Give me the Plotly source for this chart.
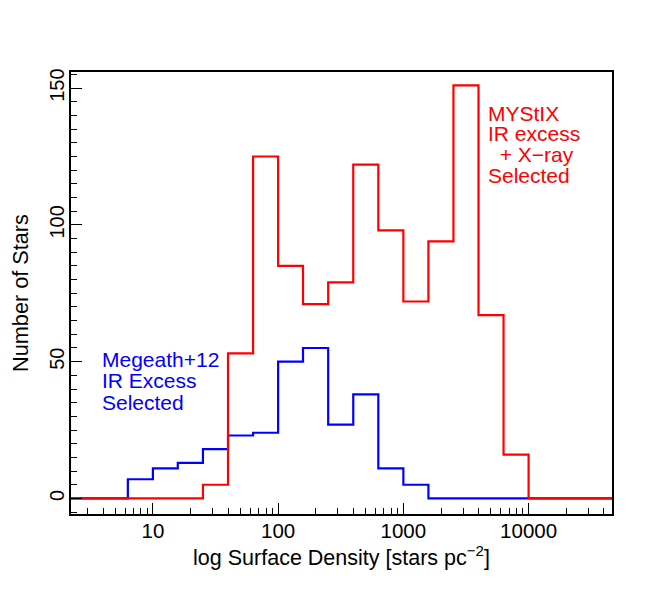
import plotly.graph_objs as go

# histogram bin edges (stars pc^-2), 0.2 dex wide
red_edges = [25.1, 39.8, 63.1, 100, 158, 251, 398, 631, 1000, 1585, 2512, 3981, 6310, 10000]
red_counts = [5, 53, 125, 85, 71, 79, 122, 98, 72, 94, 151, 67, 16]

blue_edges = [6.31, 10, 15.8, 25.1, 39.8, 63.1, 100, 158, 251, 398, 631, 1000, 1585]
blue_counts = [7, 11, 13, 18, 23, 24, 50, 55, 27, 38, 11, 5]

x_lo, x_hi = 2.22, 46400
x_ticks = [10, 100, 1000, 10000]
x_minor = [3, 4, 5, 6, 7, 8, 9, 20, 30, 40, 50, 60, 70, 80, 90,
           200, 300, 400, 500, 600, 700, 800, 900,
           2000, 3000, 4000, 5000, 6000, 7000, 8000, 9000,
           20000, 30000, 40000]

FONT = "Liberation Sans, Arial, Helvetica, sans-serif"


def step_xy(edges, counts):
    # hv-shaped outline running from the left to the right edge of the axis
    xs = [x_lo] + list(edges) + [x_hi]
    ys = [0] + list(counts) + [0, 0]
    return xs, ys


fig = go.Figure()

bx, by = step_xy(blue_edges, blue_counts)
fig.add_trace(go.Scatter(x=bx, y=by, mode="lines", line_shape="hv",
                         line=dict(color="#0000ff", width=2.2), hoverinfo="skip"))

rx, ry = step_xy(red_edges, red_counts)
fig.add_trace(go.Scatter(x=rx, y=ry, mode="lines", line_shape="hv",
                         line=dict(color="#ff0000", width=2.2), hoverinfo="skip"))

blue_lines = ["Megeath+12", "IR Excess", "Selected"]
blue_y = [0.350, 0.301, 0.252]
red_lines = ["MYStIX", "IR excess", "\u00a0\u00a0+ X\u2212ray", "Selected"]
red_y = [0.907, 0.860, 0.813, 0.765]

annotations = []
for t, yy in zip(blue_lines, blue_y):
    annotations.append(dict(text=t, x=0.054, y=yy, xref="paper", yref="paper",
                            xanchor="left", yanchor="middle", showarrow=False,
                            font=dict(color="#0000ff", size=21, family=FONT)))
for t, yy in zip(red_lines, red_y):
    annotations.append(dict(text=t, x=0.768, y=yy, xref="paper", yref="paper",
                            xanchor="left", yanchor="middle", showarrow=False,
                            font=dict(color="#ff0000", size=21, family=FONT)))

# the page body has an 8px offset, so margins are shifted by that amount
fig.update_layout(
    width=648, height=603,
    margin=dict(l=63, r=44, t=64, b=97),
    plot_bgcolor="white", paper_bgcolor="white",
    showlegend=False,
    font=dict(family=FONT, size=20, color="black"),
    annotations=annotations,
)

fig.update_xaxes(
    type="log", range=[0.346, 4.666], automargin=False,
    tickmode="array", tickvals=x_ticks, ticktext=[str(v) for v in x_ticks],
    ticks="inside", ticklen=11, tickwidth=1.2, tickcolor="black",
    minor=dict(ticks="inside", ticklen=6, tickwidth=1.2, tickcolor="black",
               tickmode="array", tickvals=x_minor, showgrid=False),
    showgrid=False, zeroline=False,
    showline=True, mirror=True, linecolor="black", linewidth=2,
    tickfont=dict(size=20.5), ticklabelstandoff=-3,
    title=dict(text="log Surface Density [stars pc<sup>\u22122</sup>]",
               font=dict(size=21.5), standoff=8),
)

fig.update_yaxes(
    range=[-5.7, 155.9], automargin=False,
    tickmode="array", tickvals=[0, 50, 100, 150],
    tickangle=-90,
    ticks="inside", ticklen=11, tickwidth=1.2, tickcolor="black",
    minor=dict(ticks="inside", ticklen=6, tickwidth=1.2, tickcolor="black",
               dtick=5, showgrid=False),
    showgrid=False, zeroline=False,
    showline=True, mirror=True, linecolor="black", linewidth=2,
    tickfont=dict(size=20), ticklabelstandoff=-3,
    title=dict(text="Number of Stars", font=dict(size=21.7), standoff=20),
)

fig.write_html("out.html")
